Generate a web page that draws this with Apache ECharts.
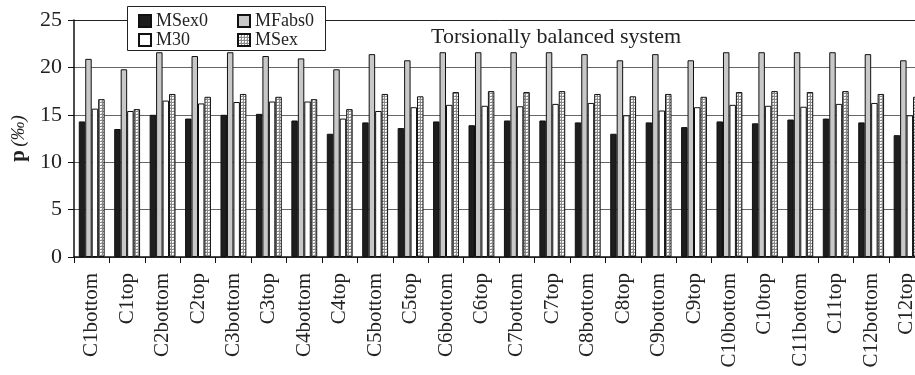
<!DOCTYPE html>
<html>
<head>
<meta charset="utf-8">
<script src="https://cdn.jsdelivr.net/npm/echarts@6/dist/echarts.min.js"></script>
<style>
  html, body { margin: 0; padding: 0; background: #fff; overflow: hidden; }
  /* the plot runs a little past the right edge of the page */
  #chart { width: 925px; height: 375px; }
</style>
</head>
<body>
<div id="chart"></div>
<script>
// Column locations along the building height
const categories = [
  'C1bottom', 'C1top', 'C2bottom', 'C2top', 'C3bottom', 'C3top',
  'C4bottom', 'C4top', 'C5bottom', 'C5top', 'C6bottom', 'C6top',
  'C7bottom', 'C7top', 'C8bottom', 'C8top', 'C9bottom', 'C9top',
  'C10bottom', 'C10top', 'C11bottom', 'C11top', 'C12bottom', 'C12top'
];

// Demand p (‰) per method
const msex0 = [14.3, 13.5, 15.0, 14.6, 15.0, 15.1, 14.4, 13.0, 14.2, 13.6, 14.3, 13.9,
               14.4, 14.4, 14.2, 13.0, 14.2, 13.7, 14.3, 14.1, 14.5, 14.6, 14.2, 12.85];
const mfabs0 = [20.9, 19.8, 21.6, 21.2, 21.6, 21.2, 20.95, 19.8, 21.4, 20.75, 21.6, 21.6,
                21.6, 21.6, 21.4, 20.75, 21.4, 20.75, 21.6, 21.6, 21.6, 21.6, 21.4, 20.75];
const m30 = [15.65, 15.4, 16.5, 16.2, 16.35, 16.4, 16.4, 14.6, 15.4, 15.8, 16.05, 15.95,
             15.9, 16.15, 16.25, 14.95, 15.45, 15.8, 16.05, 15.95, 15.85, 16.15, 16.25, 14.95];
const msex = [16.65, 15.6, 17.2, 16.9, 17.2, 16.9, 16.65, 15.6, 17.2, 16.95, 17.4, 17.5,
              17.4, 17.5, 17.2, 16.95, 17.2, 16.9, 17.4, 17.5, 17.4, 17.5, 17.2, 16.9];

const yTicks = { min: 0, max: 25, interval: 5 };

const serif = '"Liberation Serif", "DejaVu Serif", serif';

// Small dotted tile used as the fill of the MSex bars
function dotTile() {
  const c = document.createElement('canvas');
  c.width = 3; c.height = 3;
  const g = c.getContext('2d');
  g.fillStyle = '#ffffff';
  g.fillRect(0, 0, 3, 3);
  g.fillStyle = '#8a8a8a';
  g.fillRect(0, 0, 3, 1);
  g.fillRect(0, 0, 1, 3);
  g.fillStyle = '#cfcfcf';
  g.fillRect(2, 2, 1, 1);
  return c;
}

const chart = echarts.init(document.getElementById('chart'), null, { renderer: 'canvas' });

const barBase = {
  type: 'bar',
  barGap: '0%',
  barCategoryGap: '27%'
};

// Two legend columns inside one framed box
const legendBase = {
  z: 30,
  top: 12,
  orient: 'vertical',
  padding: 0,
  itemGap: 1,
  itemWidth: 12,
  itemHeight: 12,
  icon: 'rect',
  textStyle: { fontFamily: serif, fontSize: 18, color: '#222' }
};

chart.setOption({
  animation: false,
  backgroundColor: '#ffffff',
  title: {
    text: 'Torsionally balanced system',
    left: 431,
    top: 26,
    padding: 0,
    textStyle: { fontFamily: serif, fontSize: 22, fontWeight: 'normal', color: '#222' }
  },
  graphic: [{
    type: 'rect',
    z: 20,
    shape: { x: 127.5, y: 6.5, width: 198, height: 44 },
    style: { fill: '#ffffff', stroke: '#222', lineWidth: 1 }
  }],
  legend: [
    Object.assign({}, legendBase, { left: 138, data: ['MSex0', 'M30'] }),
    Object.assign({}, legendBase, { left: 237, data: ['MFabs0', 'MSex'] })
  ],
  grid: { left: 74, top: 20, right: 0.7, bottom: 118, containLabel: false },
  xAxis: {
    type: 'category',
    data: categories,
    axisLine: { lineStyle: { color: '#111', width: 1.5 } },
    axisTick: { show: true, length: 6, lineStyle: { color: '#111' } },
    axisLabel: {
      rotate: 90,
      margin: 16,
      interval: 0,
      fontFamily: serif,
      fontSize: 21,
      color: '#222'
    }
  },
  yAxis: {
    type: 'value',
    min: yTicks.min,
    max: yTicks.max,
    interval: yTicks.interval,
    name: '{b|p} {i|(‰)}',
    nameLocation: 'middle',
    nameGap: 45,
    nameRotate: 90,
    nameTextStyle: {
      rich: {
        b: { fontFamily: serif, fontSize: 21, fontWeight: 'bold', color: '#222' },
        i: { fontFamily: serif, fontSize: 19, fontStyle: 'italic', color: '#222' }
      }
    },
    axisLine: { show: true, lineStyle: { color: '#111', width: 1.5 } },
    axisTick: { show: true, length: 6, lineStyle: { color: '#111' } },
    axisLabel: { margin: 12, fontFamily: serif, fontSize: 22, color: '#222' },
    splitLine: {
      show: true,
      lineStyle: { color: ['#666', '#666', '#666', '#666', '#666', '#222'], width: 1 }
    }
  },
  series: [
    Object.assign({}, barBase, {
      name: 'MSex0', data: msex0,
      itemStyle: { color: '#1e1e1e', borderColor: '#111', borderWidth: 1 }
    }),
    Object.assign({}, barBase, {
      name: 'MFabs0', data: mfabs0,
      itemStyle: { color: '#c8c8c8', borderColor: '#111', borderWidth: 1 }
    }),
    Object.assign({}, barBase, {
      name: 'M30', data: m30,
      itemStyle: { color: '#ffffff', borderColor: '#111', borderWidth: 1 }
    }),
    Object.assign({}, barBase, {
      name: 'MSex', data: msex,
      itemStyle: {
        color: { image: dotTile(), repeat: 'repeat' },
        borderColor: '#111', borderWidth: 1
      }
    })
  ]
});
</script>
</body>
</html>
